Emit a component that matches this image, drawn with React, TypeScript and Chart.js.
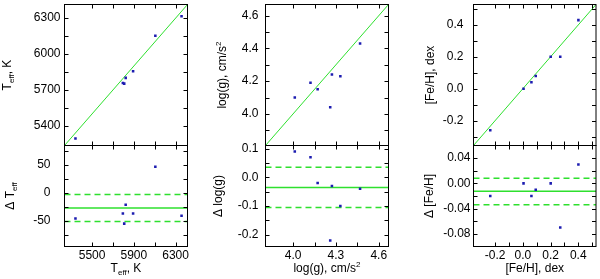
import React, { useEffect, useRef } from 'react';
import { Chart, registerables } from 'chart.js';
Chart.register(...registerables);

const FONT = '"Liberation Sans", Arial, Helvetica, sans-serif';
const GREEN = '#2ee02e';
const BLUE = '#1c1cb0';

// ---------- Panel 1: Teff ----------
const teffX = [5341, 5795, 5808, 5822, 5893, 6106, 6357];
const teffY = [5295, 5758, 5753, 5801, 5857, 6153, 6316];
const teffDelta = [-46, -37, -55, -21, -37, 47, -41];
const teffDeltaMean = -27;
const teffDeltaBand = [-3, -51];
const teffRange = [5236, 6414];
const teffDeltaRange = [-96, 85];
const teffXTicks = [5500, 5700, 5900, 6100, 6300];
const teffXLabels = [5500, 5900, 6300];
const teffYTicks = [5250, 5400, 5550, 5700, 5850, 6000, 6150, 6300];
const teffYLabels = [5400, 5700, 6000, 6300];
const teffDTicks = [-75, -50, -25, 0, 25, 50, 75];
const teffDLabels = [-50, 0, 50];

// ---------- Panel 2: log(g) ----------
const loggX = [4.012, 4.122, 4.172, 4.26, 4.272, 4.331, 4.469];
const loggY = [4.1, 4.19, 4.15, 4.04, 4.24, 4.23, 4.43];
const loggDelta = [0.09, 0.07, -0.02, -0.22, -0.03, -0.1, -0.04];
const loggDeltaMean = -0.035;
const loggDeltaBand = [0.035, -0.105];
const loggRange = [3.807, 4.668];
const loggDeltaRange = [-0.241, 0.111];
const loggXTicks = [4.0, 4.15, 4.3, 4.45, 4.6];
const loggXLabels = [4.0, 4.3, 4.6];
const loggYTicks = [3.9, 4.0, 4.1, 4.2, 4.3, 4.4, 4.5, 4.6];
const loggYLabels = [4.0, 4.2, 4.4, 4.6];
const loggDTicks = [-0.2, -0.15, -0.1, -0.05, 0, 0.05, 0.1];
const loggDLabels = [-0.2, -0.1, 0, 0.1];

// ---------- Panel 3: [Fe/H] ----------
const fehX = [-0.235, 0.005, 0.062, 0.093, 0.201, 0.27, 0.401];
const fehY = [-0.26, 0.0, 0.04, 0.08, 0.2, 0.2, 0.43];
const fehDelta = [-0.02, 0.0, -0.02, -0.01, 0.0, -0.07, 0.03];
const fehDeltaMean = -0.0123;
const fehDeltaBand = [0.008, -0.034];
const fehRange = [-0.356, 0.528];
const fehDeltaRange = [-0.1, 0.06];
const fehXTicks = [-0.2, -0.1, 0, 0.1, 0.2, 0.3, 0.4, 0.5];
const fehXLabels = [-0.2, 0, 0.2, 0.4];
const fehYTicks = [-0.3, -0.2, -0.1, 0, 0.1, 0.2, 0.3, 0.4, 0.5];
const fehYLabels = [-0.2, 0, 0.2, 0.4];
const fehDTicks = [-0.08, -0.06, -0.04, -0.02, 0, 0.02, 0.04];
const fehDLabels = [-0.08, -0.04, 0, 0.04];

// ---------- Layout ----------
const PLOT_TOP = 4.5;
const PLOT_MID = 145.5;
const PLOT_BOTTOM = 246.5;
const COLS = [
  { left: 64.5, right: 187.5 },
  { left: 265.5, right: 388.5 },
  { left: 473.5, right: 597.5 },
];
const YW = 60;
const XH = 22;
const TICK = 4;

type Part = [string, 'n' | 'sub' | 'sup'];

const near = (arr: number[], v: number) => arr.some((a) => Math.abs(a - v) < 1e-6);

function drawRich(ctx: CanvasRenderingContext2D, parts: Part[], cx: number, cy: number, rotate: boolean) {
  ctx.save();
  ctx.translate(cx, cy);
  if (rotate) ctx.rotate(-Math.PI / 2);
  ctx.fillStyle = '#000';
  ctx.textBaseline = 'alphabetic';
  ctx.textAlign = 'left';
  const fontFor = (k: string) => (k === 'n' ? `12px ${FONT}` : `8px ${FONT}`);
  let total = 0;
  const widths = parts.map(([t, k]) => {
    ctx.font = fontFor(k);
    const w = ctx.measureText(t).width;
    total += w;
    return w;
  });
  let x = -total / 2;
  const base = 4.3;
  parts.forEach(([t, k], i) => {
    ctx.font = fontFor(k);
    const y = base + (k === 'sub' ? 3 : k === 'sup' ? -5 : 0);
    ctx.fillText(t, x, y);
    x += widths[i];
  });
  ctx.restore();
}

type Spec = {
  left: number;
  right: number;
  top: number;
  bottom: number;
  showX: boolean;
  xRange: number[];
  xTicks: number[];
  xLabels: number[];
  xDigits: number;
  yRange: number[];
  yTicks: number[];
  yLabels: number[];
  yDigits: number;
  yPad: number;
  points: { x: number; y: number }[];
  lines: { data: { x: number; y: number }[]; width: number; dash?: number[] }[];
  yTitle: Part[];
  yTitleX: number;
  xTitle?: Part[];
};

function buildChart(canvas: HTMLCanvasElement, s: Spec) {
  const datasets: any[] = [];
  s.lines.forEach((l) =>
    datasets.push({
      data: l.data,
      showLine: true,
      borderColor: GREEN,
      borderWidth: l.width,
      borderDash: l.dash || [],
      pointRadius: 0,
      fill: false,
      order: 2,
    })
  );
  datasets.push({
    data: s.points,
    pointStyle: 'rect',
    pointRadius: 1.8,
    backgroundColor: BLUE,
    borderWidth: 0,
    order: 1,
  });

  const framePlugin = {
    id: 'frameTicks',
    afterDatasetsDraw(chart: any) {
      const { ctx, chartArea: a, scales } = chart;
      const xs = scales.x;
      const ys = scales.y;
      ctx.save();
      ctx.strokeStyle = '#000';
      ctx.lineWidth = 1;
      ctx.setLineDash([]);
      ctx.strokeRect(a.left, a.top, a.right - a.left, a.bottom - a.top);
      ctx.beginPath();
      s.xTicks.forEach((v) => {
        const px = Math.round(xs.getPixelForValue(v)) + 0.5;
        ctx.moveTo(px, a.bottom);
        ctx.lineTo(px, a.bottom - TICK);
        ctx.moveTo(px, a.top);
        ctx.lineTo(px, a.top + TICK);
      });
      s.yTicks.forEach((v) => {
        const py = Math.round(ys.getPixelForValue(v)) + 0.5;
        if (py <= a.top + 1 || py >= a.bottom - 1) return;
        ctx.moveTo(a.left, py);
        ctx.lineTo(a.left + TICK, py);
        ctx.moveTo(a.right, py);
        ctx.lineTo(a.right - TICK, py);
      });
      ctx.stroke();
      ctx.restore();
    },
    afterDraw(chart: any) {
      const { ctx, chartArea: a } = chart;
      drawRich(ctx, s.yTitle, s.yTitleX, (a.top + a.bottom) / 2, true);
      if (s.xTitle) drawRich(ctx, s.xTitle, (a.left + a.right) / 2, 268, false);
    },
  };

  return new Chart(canvas, {
    type: 'scatter',
    data: { datasets },
    options: {
      animation: false,
      responsive: false,
      devicePixelRatio: 1,
      events: [],
      layout: {
        padding: {
          left: s.left - YW,
          right: 600 - s.right,
          top: s.top,
          bottom: s.showX ? 279 - s.bottom - XH : 279 - s.bottom,
        },
      },
      plugins: { legend: { display: false }, tooltip: { enabled: false } },
      scales: {
        x: {
          type: 'linear',
          min: s.xRange[0],
          max: s.xRange[1],
          display: s.showX,
          afterBuildTicks: (sc: any) => {
            sc.ticks = s.xTicks.map((v) => ({ value: v }));
          },
          afterFit: (sc: any) => {
            if (s.showX) sc.height = XH;
            sc.paddingLeft = 0;
            sc.paddingRight = 0;
            sc.paddingTop = 0;
            sc.paddingBottom = 0;
          },
          grid: { display: false, drawTicks: false },
          border: { display: false },
          ticks: {
            autoSkip: false,
            maxRotation: 0,
            minRotation: 0,
            padding: 2,
            color: '#000',
            font: { family: FONT, size: 12 },
            callback: (v: any) => (near(s.xLabels, Number(v)) ? Number(v).toFixed(s.xDigits) : ''),
          },
        },
        y: {
          type: 'linear',
          min: s.yRange[0],
          max: s.yRange[1],
          afterBuildTicks: (sc: any) => {
            sc.ticks = s.yTicks.map((v) => ({ value: v }));
          },
          afterFit: (sc: any) => {
            sc.width = YW;
            sc.paddingLeft = 0;
            sc.paddingRight = 0;
            sc.paddingTop = 0;
            sc.paddingBottom = 0;
          },
          grid: { display: false, drawTicks: false },
          border: { display: false },
          ticks: {
            autoSkip: false,
            padding: s.yPad,
            color: '#000',
            font: { family: FONT, size: 12 },
            callback: (v: any) => (near(s.yLabels, Number(v)) ? Number(v).toFixed(s.yDigits) : ''),
          },
        },
      },
    },
    plugins: [framePlugin],
  } as any);
}

function PanelChart({ spec }: { spec: Spec }) {
  const ref = useRef<HTMLCanvasElement | null>(null);
  useEffect(() => {
    const chart = buildChart(ref.current as HTMLCanvasElement, spec);
    return () => chart.destroy();
  }, []);
  return (
    <canvas
      ref={ref}
      width={600}
      height={279}
      style={{ position: 'absolute', left: 0, top: 0, width: 600, height: 279 }}
    />
  );
}

const pts = (xs: number[], ys: number[]) => xs.map((x, i) => ({ x, y: ys[i] }));
const diag = (r: number[]) => [
  { x: r[0], y: r[0] },
  { x: r[1], y: r[1] },
];
const hline = (r: number[], y: number) => [
  { x: r[0], y },
  { x: r[1], y },
];

function topSpec(col: number, o: any): Spec {
  return {
    left: COLS[col].left,
    right: COLS[col].right,
    top: PLOT_TOP,
    bottom: PLOT_MID,
    showX: false,
    xRange: o.range,
    xTicks: o.xTicks,
    xLabels: o.xLabels,
    xDigits: o.xDigits,
    yRange: o.range,
    yTicks: o.yTicks,
    yLabels: o.yLabels,
    yDigits: o.yDigits,
    yPad: o.yPad,
    points: pts(o.xs, o.ys),
    lines: [{ data: diag(o.range), width: 1 }],
    yTitle: o.yTitle,
    yTitleX: COLS[col].left - o.yTitleOff,
  };
}

function bottomSpec(col: number, o: any): Spec {
  return {
    left: COLS[col].left,
    right: COLS[col].right,
    top: PLOT_MID,
    bottom: PLOT_BOTTOM,
    showX: true,
    xRange: o.xRange,
    xTicks: o.xTicks,
    xLabels: o.xLabels,
    xDigits: o.xDigits,
    yRange: o.yRange,
    yTicks: o.yTicks,
    yLabels: o.yLabels,
    yDigits: o.yDigits,
    yPad: o.yPad,
    points: pts(o.xs, o.ds),
    lines: [
      { data: hline(o.xRange, o.mean), width: 1.5 },
      { data: hline(o.xRange, o.band[0]), width: 1.5, dash: [6, 4] },
      { data: hline(o.xRange, o.band[1]), width: 1.5, dash: [6, 4] },
    ],
    yTitle: o.yTitle,
    yTitleX: COLS[col].left - o.yTitleOff,
    xTitle: o.xTitle,
  };
}

const SPECS: Spec[] = [
  topSpec(0, {
    range: teffRange, xTicks: teffXTicks, xLabels: teffXLabels, xDigits: 0,
    yTicks: teffYTicks, yLabels: teffYLabels, yDigits: 0, yPad: 4,
    xs: teffX, ys: teffY, yTitle: [['T', 'n'], ['eff', 'sub'], [', K', 'n']], yTitleOff: 57.5,
  }),
  bottomSpec(0, {
    xRange: teffRange, xTicks: teffXTicks, xLabels: teffXLabels, xDigits: 0,
    yRange: teffDeltaRange, yTicks: teffDTicks, yLabels: teffDLabels, yDigits: 0, yPad: 14,
    xs: teffX, ds: teffDelta, mean: teffDeltaMean, band: teffDeltaBand,
    yTitle: [['Δ T', 'n'], ['eff', 'sub']], yTitleOff: 54.5,
    xTitle: [['T', 'n'], ['eff', 'sub'], [', K', 'n']],
  }),
  topSpec(1, {
    range: loggRange, xTicks: loggXTicks, xLabels: loggXLabels, xDigits: 1,
    yTicks: loggYTicks, yLabels: loggYLabels, yDigits: 1, yPad: 7,
    xs: loggX, ys: loggY, yTitle: [['log(g), cm/s', 'n'], ['2', 'sup']], yTitleOff: 43.5,
  }),
  bottomSpec(1, {
    xRange: loggRange, xTicks: loggXTicks, xLabels: loggXLabels, xDigits: 1,
    yRange: loggDeltaRange, yTicks: loggDTicks, yLabels: loggDLabels, yDigits: 1, yPad: 7,
    xs: loggX, ds: loggDelta, mean: loggDeltaMean, band: loggDeltaBand,
    yTitle: [['Δ log(g)', 'n']], yTitleOff: 47.5,
    xTitle: [['log(g), cm/s', 'n'], ['2', 'sup']],
  }),
  topSpec(2, {
    range: fehRange, xTicks: fehXTicks, xLabels: fehXLabels, xDigits: 1,
    yTicks: fehYTicks, yLabels: fehYLabels, yDigits: 1, yPad: 10,
    xs: fehX, ys: fehY, yTitle: [['[Fe/H], dex', 'n']], yTitleOff: 44,
  }),
  bottomSpec(2, {
    xRange: fehRange, xTicks: fehXTicks, xLabels: fehXLabels, xDigits: 1,
    yRange: fehDeltaRange, yTicks: fehDTicks, yLabels: fehDLabels, yDigits: 2, yPad: 3,
    xs: fehX, ds: fehDelta, mean: fehDeltaMean, band: fehDeltaBand,
    yTitle: [['Δ [Fe/H]', 'n']], yTitleOff: 44.5,
    xTitle: [['[Fe/H], dex', 'n']],
  }),
];

export default function App() {
  return (
    <div style={{ position: 'fixed', left: 0, top: 0, width: 600, height: 279, background: '#fff' }}>
      {SPECS.map((s, i) => (
        <PanelChart key={i} spec={s} />
      ))}
    </div>
  );
}
